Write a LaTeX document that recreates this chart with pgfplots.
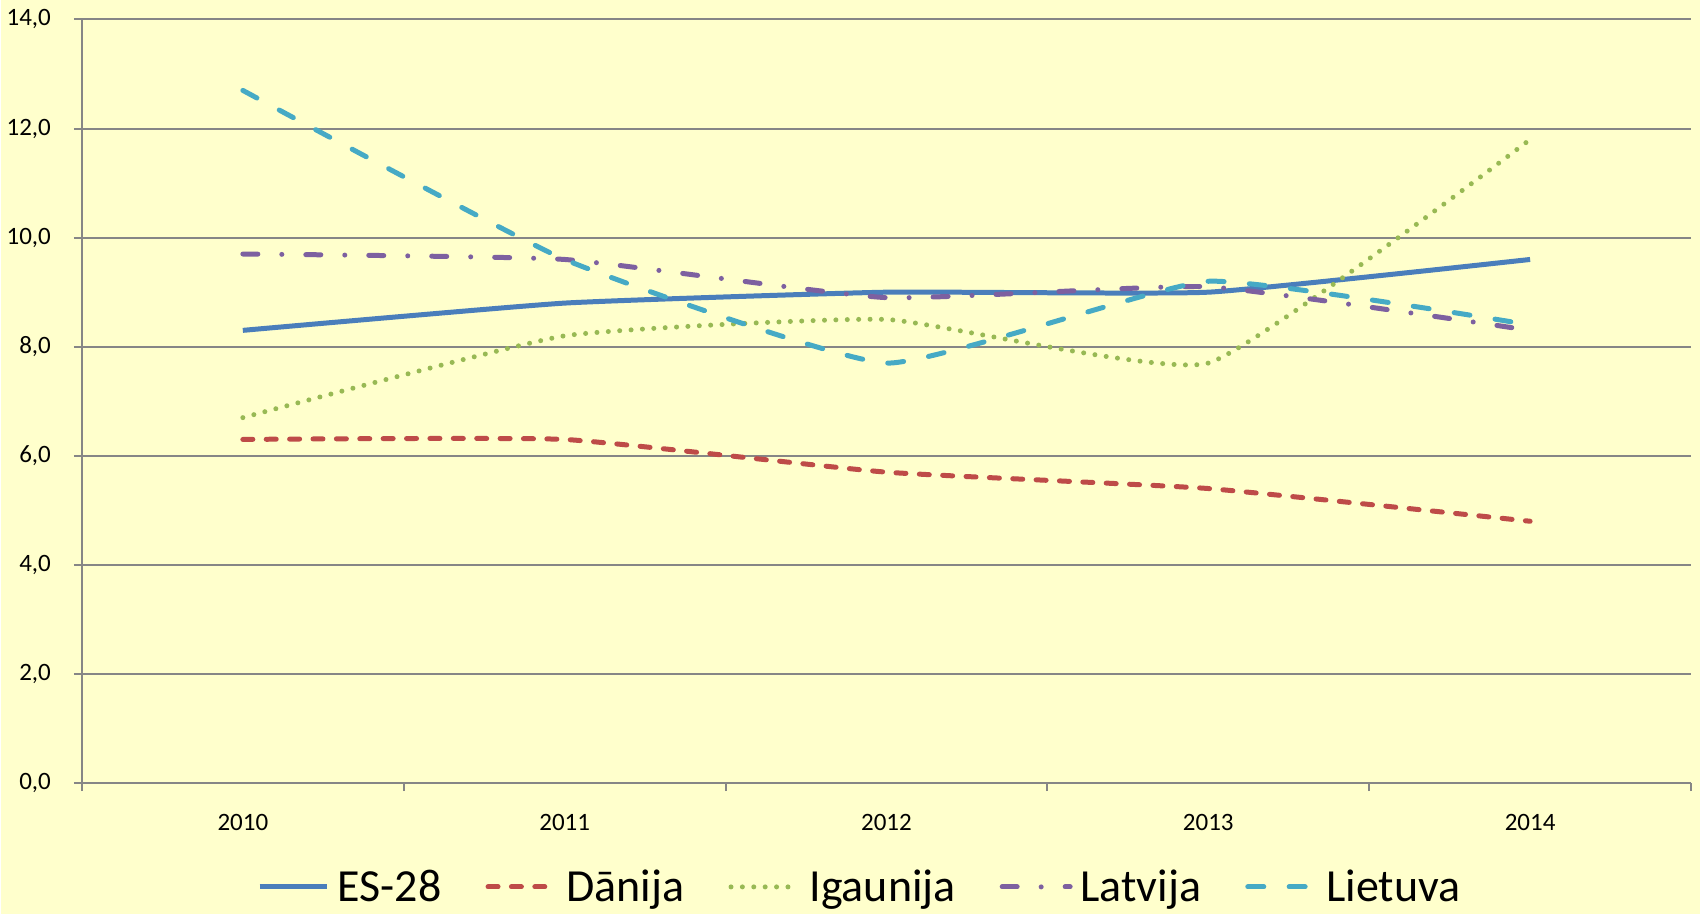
\documentclass[border=0pt]{standalone}
\usepackage{pgfplots}
\pgfplotsset{compat=1.18}
\usepackage{fontspec}
\setmainfont{Carlito}
\definecolor{bgc}{HTML}{FFFFCC}
\definecolor{gridc}{HTML}{868686}
\definecolor{cES}{HTML}{4A7EBB}
\definecolor{cDK}{HTML}{BE4B48}
\definecolor{cEE}{HTML}{98B954}
\definecolor{cLV}{HTML}{7D60A0}
\definecolor{cLT}{HTML}{46AAC5}
\begin{document}
\begin{tikzpicture}
\fill[bgc] (-40.5pt,-65.5pt) rectangle (809.5pt,391.75pt);
\begin{axis}[
  at={(0pt,0pt)}, anchor=south west,
  scale only axis, width=805pt, height=382pt,
  xmin=-0.5, xmax=4.5, ymin=0, ymax=14,
  axis lines*=left,
  axis line style={gridc, line width=1pt},
  xtick={0,1,2,3,4},
  xticklabels={2010,2011,2012,2013,2014},
  minor xtick={-0.5,0.5,1.5,2.5,3.5,4.5},
  ytick={0,2,...,14},
  tick align=outside,
  major tick length=4pt, minor tick length=4pt,
  x tick style={draw=none},
  minor x tick style={draw=gridc, line width=1pt},
  y tick style={draw=gridc, line width=1pt},
  ymajorgrids,
  major grid style={gridc, line width=1pt},
  /pgf/number format/assume math mode=true,
  yticklabel style={/pgf/number format/.cd, fixed, fixed zerofill, precision=1, use comma, /tikz/.cd, font=\fontsize{12.5}{14}\selectfont, xshift=-8pt},
  xticklabel style={font=\fontsize{12.5}{14}\selectfont, yshift=-8pt},
  legend style={draw=none, fill=none, at={(0.484,-0.136)}, anchor=center,
    legend columns=5, font=\fontsize{23}{26}\selectfont,
    /tikz/every even column/.append style={column sep=20pt},
    /tikz/every odd column/.append style={column sep=2pt}},
  legend cell align=left,
  legend image code/.code={\draw[#1] (0pt,0pt) -- (34pt,0pt);},
  every axis plot/.append style={line width=2.5pt, smooth, tension=0.25, line cap=round},
]
\addplot[cES, line cap=butt] coordinates {(0,8.3) (1,8.8) (2,9.0) (3,9.0) (4,9.6)};
\addlegendentry{ES-28}
\addplot[cDK, dash pattern=on 5pt off 6.7pt] coordinates {(0,6.3) (1,6.3) (2,5.7) (3,5.4) (4,4.8)};
\addlegendentry{Dānija}
\addplot[cEE, dash pattern=on 0pt off 5.7pt] coordinates {(0,6.7) (1,8.2) (2,8.5) (3,7.7) (4,11.8)};
\addlegendentry{Igaunija}
\addplot[cLV, dash pattern=on 7.5pt off 12pt on 0pt off 12pt] coordinates {(0,9.7) (1,9.6) (2,8.9) (3,9.1) (4,8.3)};
\addlegendentry{Latvija}
\addplot[cLT, dash pattern=on 8pt off 12.7pt] coordinates {(0,12.7) (1,9.6) (2,7.7) (3,9.2) (4,8.4)};
\addlegendentry{Lietuva}
\end{axis}
\end{tikzpicture}
\end{document}
